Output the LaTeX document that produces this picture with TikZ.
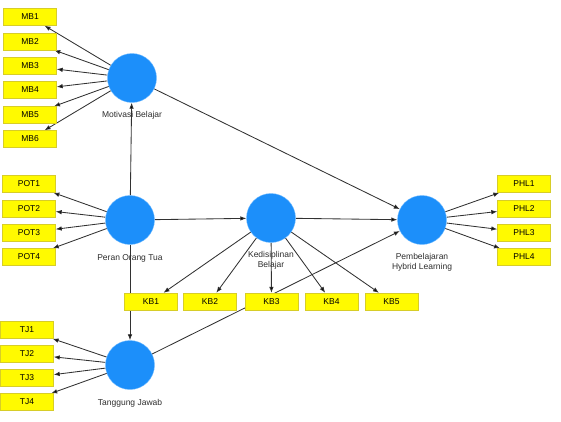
\documentclass[tikz,border=0pt]{standalone}
\usepackage{fontspec}
\setmainfont{Liberation Sans}
\usetikzlibrary{arrows.meta,backgrounds}
\definecolor{lvblue}{RGB}{28,143,250}
\definecolor{lvedge}{RGB}{110,185,255}
\definecolor{indyellow}{RGB}{255,250,0}
\definecolor{indedge}{RGB}{215,205,40}
\definecolor{linegray}{RGB}{50,50,50}
\definecolor{lbltext}{RGB}{45,45,45}
\begin{document}
\begin{tikzpicture}[x=1pt, y=-1pt, font=\fontsize{8.5}{10}\selectfont,
  latent/.style={shape=circle, fill=lvblue, draw=lvedge, minimum size=49pt, inner sep=0pt},
  ind/.style={shape=rectangle, fill=indyellow, draw=indedge, minimum width=53pt, minimum height=17pt, inner sep=0pt},
  lbl/.style={text=lbltext, align=center, label distance=5pt},
  arr/.style={-{Latex[length=6pt,width=4.6pt]}, draw=linegray, line width=0.85pt}]
\useasboundingbox (0,0) rectangle (561,421);
% latent variables
\node[latent, label={[lbl]below:Motivasi Belajar}] (MOT) at (132,78) {};
\node[latent, label={[lbl,label distance=6pt]below:Peran Orang Tua}] (POT) at (130,220) {};
\node[latent, label={[lbl]below:{Kedisiplinan\\Belajar}}] (KED) at (271,218) {};
\node[latent, label={[lbl]below:{Pembelajaran\\Hybrid Learning}}] (PHL) at (422,220) {};
\node[latent, label={[lbl,label distance=6pt]below:Tanggung Jawab}] (TJ) at (130,365) {};
% indicators
\node[ind] (MB1) at (30,17) {MB1};
\node[ind] (MB2) at (30,41.5) {MB2};
\node[ind] (MB3) at (30,66) {MB3};
\node[ind] (MB4) at (30,90) {MB4};
\node[ind] (MB5) at (30,115) {MB5};
\node[ind] (MB6) at (30,139) {MB6};
\node[ind] (POT1) at (29,184) {POT1};
\node[ind] (POT2) at (29,208.5) {POT2};
\node[ind] (POT3) at (29,232.5) {POT3};
\node[ind] (POT4) at (29,257) {POT4};
\node[ind] (KB1) at (151,301.5) {KB1};
\node[ind] (KB2) at (210,301.5) {KB2};
\node[ind] (KB3) at (271.5,301.5) {KB3};
\node[ind] (KB4) at (331.5,301.5) {KB4};
\node[ind] (KB5) at (391.5,301.5) {KB5};
\node[ind] (PHL1) at (524,184) {PHL1};
\node[ind] (PHL2) at (524,208.5) {PHL2};
\node[ind] (PHL3) at (524,232.5) {PHL3};
\node[ind] (PHL4) at (524,257) {PHL4};
\node[ind] (TJ1) at (27,330) {TJ1};
\node[ind] (TJ2) at (27,354) {TJ2};
\node[ind] (TJ3) at (27,378) {TJ3};
\node[ind] (TJ4) at (27,402) {TJ4};
\begin{scope}[on background layer]
% structural paths
\path[arr] (POT) edge (MOT);
\path[arr] (POT) edge (KED);
\path[arr] (POT) edge (TJ);
\path[arr] (MOT) edge (PHL);
\path[arr] (KED) edge (PHL);
\path[arr] (TJ) edge (PHL);
% outer loadings
\path[arr] (MOT) edge (MB1);
\path[arr] (MOT) edge (MB2);
\path[arr] (MOT) edge (MB3);
\path[arr] (MOT) edge (MB4);
\path[arr] (MOT) edge (MB5);
\path[arr] (MOT) edge (MB6);
\path[arr] (POT) edge (POT1);
\path[arr] (POT) edge (POT2);
\path[arr] (POT) edge (POT3);
\path[arr] (POT) edge (POT4);
\path[arr] (KED) edge (KB1);
\path[arr] (KED) edge (KB2);
\path[arr] (KED) edge (KB3);
\path[arr] (KED) edge (KB4);
\path[arr] (KED) edge (KB5);
\path[arr] (PHL) edge (PHL1);
\path[arr] (PHL) edge (PHL2);
\path[arr] (PHL) edge (PHL3);
\path[arr] (PHL) edge (PHL4);
\path[arr] (TJ) edge (TJ1);
\path[arr] (TJ) edge (TJ2);
\path[arr] (TJ) edge (TJ3);
\path[arr] (TJ) edge (TJ4);
\end{scope}
\end{tikzpicture}
\end{document}
